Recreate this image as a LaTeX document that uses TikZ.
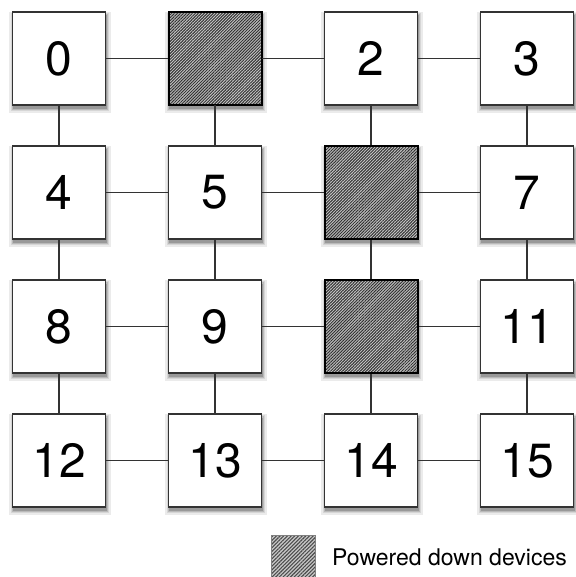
\documentclass[tikz,border=0pt]{standalone}
\usepackage{fontspec}
\setmainfont{TeX Gyre Heros}
\usepackage{tikz}
\usetikzlibrary{patterns.meta}
\definecolor{edgegray}{HTML}{333333}
\definecolor{hatchgray}{HTML}{C8C8C8}
\tikzset{
  device/.style={draw=edgegray,line width=1.4pt,fill=white,minimum size=93pt,
    inner sep=0pt,font=\fontsize{48}{48}\selectfont},
  offdev/.style={device,draw=black,line width=2pt,preaction={fill=hatchgray},
    pattern={Lines[angle=45,distance=2.1pt,line width=1pt]},pattern color=black!80},
  link/.style={draw=edgegray,line width=1.2pt}
}

\begin{document}
\begin{tikzpicture}[x=1pt,y=-1pt]
  \useasboundingbox (0,0) rectangle (575,577);
  % the 4x4 mesh, each box over a soft shadow
  \foreach \n/\s/\t in {0/device/0,1/offdev/{},2/device/2,3/device/3,
      4/device/4,5/device/5,6/offdev/{},7/device/7,
      8/device/8,9/device/9,10/offdev/{},11/device/11,
      12/device/12,13/device/13,14/device/14,15/device/15}{
    \pgfmathsetmacro\cx{59+156*mod(\n,4)}
    \pgfmathsetmacro\cy{58.5+134*floor(\n/4)}
    \foreach \e/\k in {3.6/8,2.4/16,1.2/27,0/40}{
      \fill[black!\k] ({\cx-46+\e*(-1)},{\cy-43-\e})
        rectangle ({\cx+48+\e},{\cy+50.5+\e});
    }
    \node[\s] (d\n) at (\cx,\cy) {\t};
  }
  \foreach \r in {0,...,3}{
    \foreach \c in {0,1,2}{
      \pgfmathtruncatemacro\a{4*\r+\c}
      \pgfmathtruncatemacro\b{\a+1}
      \draw[link] (d\a) -- (d\b);
      \pgfmathtruncatemacro\a{4*\c+\r}
      \pgfmathtruncatemacro\b{\a+4}
      \draw[link] (d\a) -- (d\b);
    }
  }
  % legend
  \node[draw=gray,line width=0.8pt,minimum width=44pt,minimum height=45pt,
    preaction={fill=hatchgray},pattern={Lines[angle=45,distance=2.6pt,line width=1.1pt]},
    pattern color=black!70] (key) at (293,557.5) {};
  \node[anchor=base west,inner sep=0pt,font=\fontsize{23}{23}\selectfont]
    (keytext) at (332,565) {Powered down devices};
\end{tikzpicture}
\end{document}
